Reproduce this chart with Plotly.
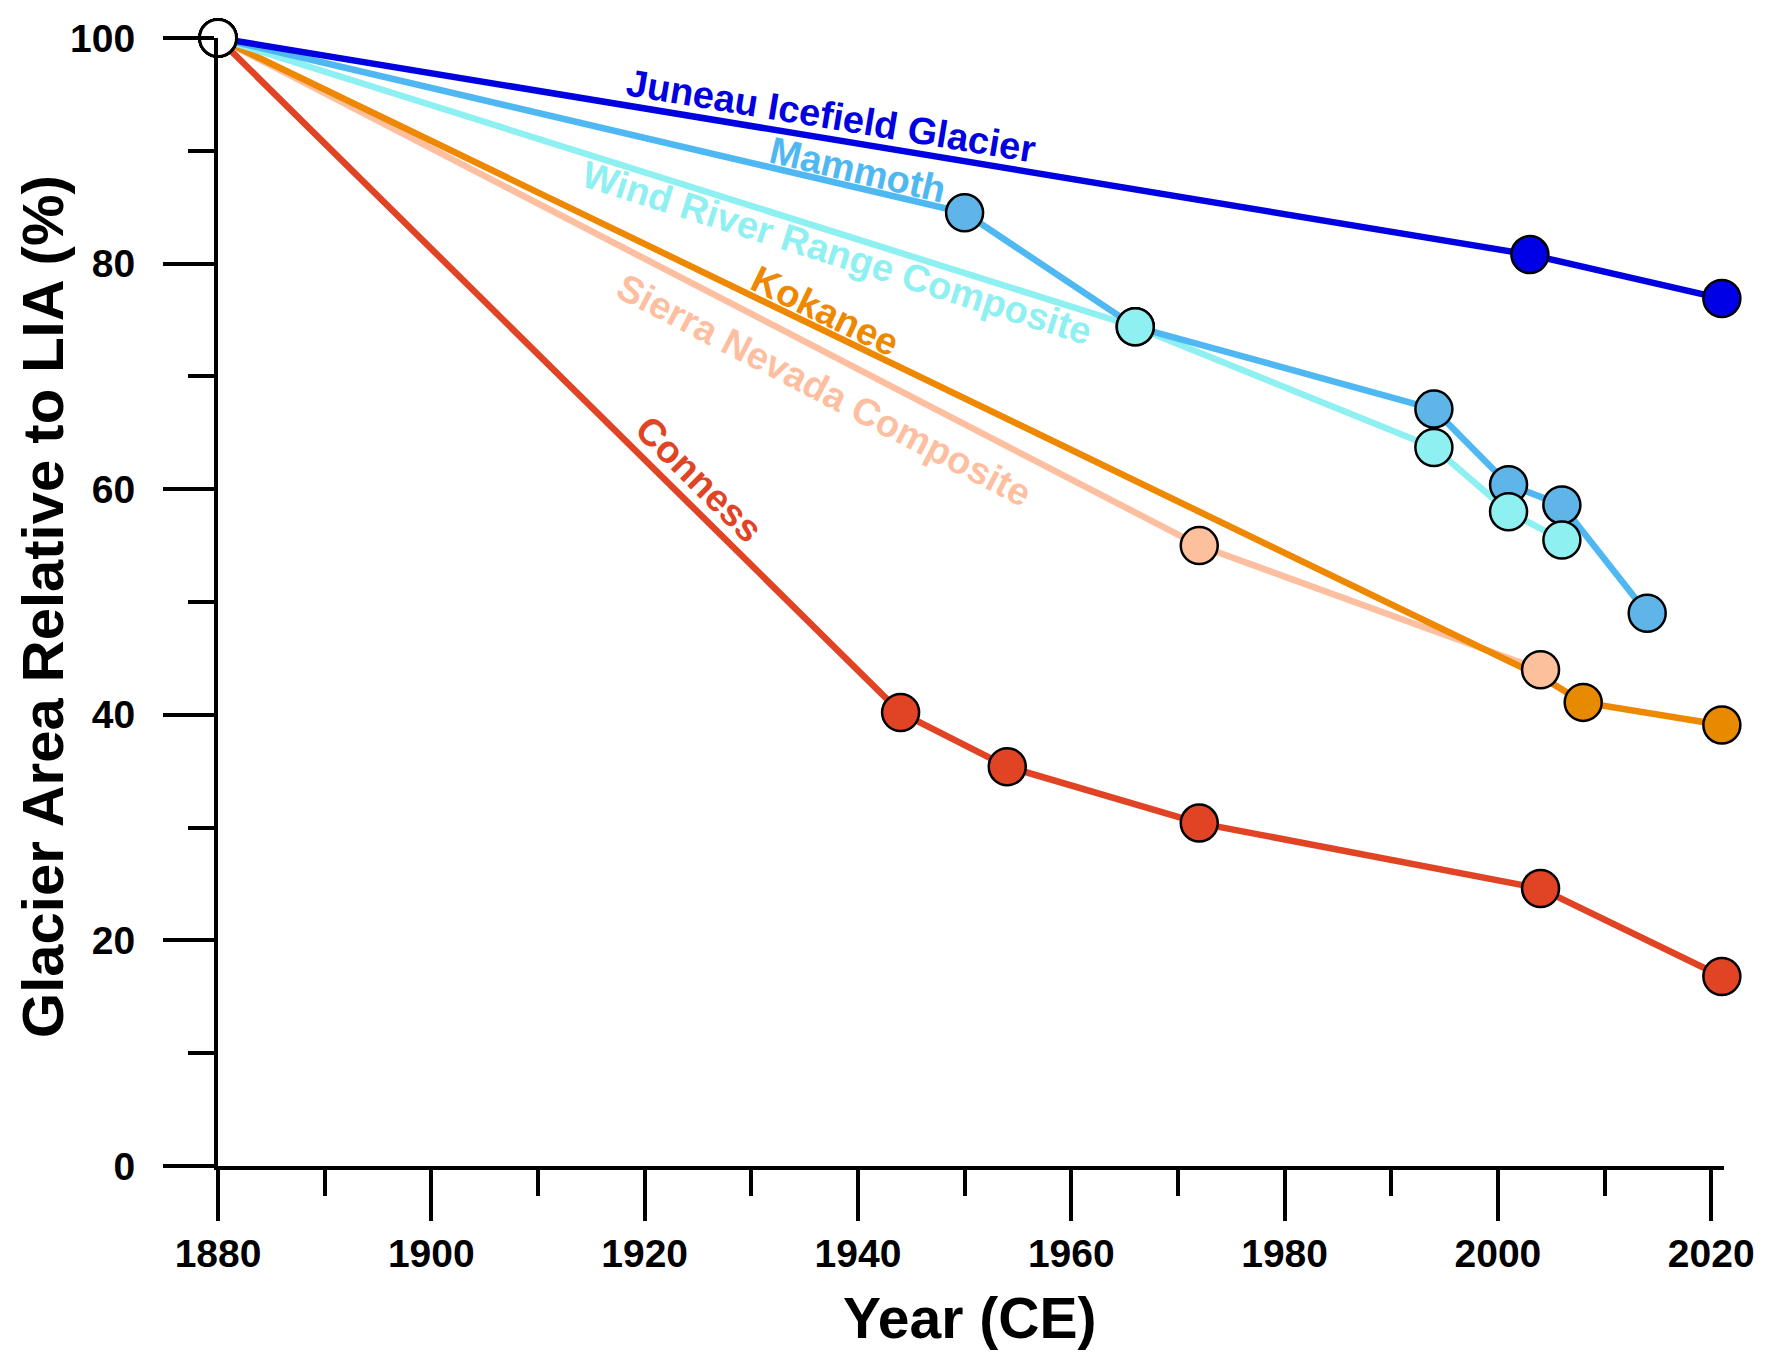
import plotly.graph_objects as go

# glacier area relative to Little Ice Age maximum (%)
juneau_years = [1880, 2003, 2021]
juneau_area = [100, 80.8, 76.9]

mammoth_years = [1880, 1950, 1966, 1994, 2001, 2006, 2014]
mammoth_area = [100, 84.5, 74.4, 67.1, 60.4, 58.6, 49.0]

wind_years = [1880, 1966, 1994, 2001, 2006]
wind_area = [100, 74.4, 63.7, 58.0, 55.5]

# the 2004 Kokanee value sits under the Sierra Nevada marker (no own circle)
kokanee_years = [1880, 2004, 2008, 2021]
kokanee_area = [100, 43.4, 41.1, 39.1]
kokanee_hidden = [2004]

sierra_years = [1880, 1972, 2004]
sierra_area = [100, 55.0, 44.0]

conness_years = [1880, 1944, 1954, 1972, 2004, 2021]
conness_area = [100, 40.2, 35.4, 30.4, 24.6, 16.8]

lia_year = [1880]
lia_area = [100]

x_ticks = [1880, 1900, 1920, 1940, 1960, 1980, 2000, 2020]
y_ticks = [0, 20, 40, 60, 80, 100]

FONT = "Arial, Liberation Sans, sans-serif"
MARKER_SIZE = 37

series = {
    "Conness": (conness_years, conness_area, "#e04424", "#e04424"),
    "Sierra Nevada Composite": (sierra_years, sierra_area, "#fdbf9f", "#fdc09d"),
    "Kokanee": (kokanee_years, kokanee_area, "#ee8800", "#e88a00"),
    "Wind River Range Composite": (wind_years, wind_area, "#8ef0f0", "#8ef0f0"),
    "Mammoth": (mammoth_years, mammoth_area, "#4fb8f2", "#5fb5e8"),
    "Juneau Icefield Glacier": (juneau_years, juneau_area, "#0000e0", "#0000e6"),
}
marker_order = ["Conness", "Kokanee", "Sierra Nevada Composite", "Mammoth",
                "Wind River Range Composite", "Juneau Icefield Glacier"]

fig = go.Figure()

# lines first, then markers on top
for name, (xs, ys, line_color, _) in series.items():
    fig.add_trace(go.Scatter(x=xs, y=ys, mode="lines", name=name,
                             line=dict(color=line_color, width=6.5),
                             cliponaxis=False, showlegend=False))

for name in marker_order:
    xs, ys, _, marker_color = series[name]
    sizes = [0 if (name == "Kokanee" and x in kokanee_hidden) else MARKER_SIZE
             for x in xs]
    widths = [0 if s == 0 else 2.5 for s in sizes]
    fig.add_trace(go.Scatter(x=xs, y=ys, mode="markers", name=name,
                             marker=dict(size=sizes, color=marker_color,
                                         opacity=1,
                                         line=dict(color="black", width=widths)),
                             cliponaxis=False, showlegend=False))

fig.add_trace(go.Scatter(x=lia_year, y=lia_area, mode="markers", name="LIA",
                         marker=dict(size=MARKER_SIZE, color="white", opacity=1,
                                     line=dict(color="black", width=3)),
                         cliponaxis=False, showlegend=False))

# labels along the lines: (text, x, y, angle, colour)
labels = [
    ("Juneau Icefield Glacier", 1937.5, 93.1, 9.4, "#0000e0"),
    ("Mammoth", 1940.0, 88.3, 13.2, "#4fb8f2"),
    ("Wind River Range Composite", 1938.0, 80.9, 17.5, "#8ef0f0"),
    ("Kokanee", 1936.9, 75.8, 25.8, "#ee8800"),
    ("Sierra Nevada Composite", 1936.8, 68.8, 27.4, "#fdbf9f"),
    ("Conness", 1925.1, 60.9, 44.7, "#e04424"),
]
for text, lx, ly, ang, col in labels:
    fig.add_annotation(x=lx, y=ly, xref="x", yref="y", text=text,
                       textangle=ang, showarrow=False,
                       xanchor="center", yanchor="middle",
                       font=dict(family=FONT, size=38, color=col, weight="bold"))

# axis titles
fig.add_annotation(x=0, y=0.4956, xref="paper", yref="paper", xshift=-175,
                   xanchor="center", yanchor="middle",
                   text="Glacier Area Relative to LIA (%)", textangle=-90,
                   showarrow=False,
                   font=dict(family=FONT, size=58, color="black", weight="bold"))
fig.add_annotation(x=0.4993, y=0, xref="paper", yref="paper", yshift=-152,
                   xanchor="center", yanchor="middle",
                   text="Year (CE)", showarrow=False,
                   font=dict(family=FONT, size=57, color="black", weight="bold"))

tick_font = dict(family=FONT, size=39, color="black", weight="bold")

fig.update_xaxes(range=[1880, 2021.2], tickvals=x_ticks, ticks="outside",
                 ticklen=51, tickwidth=4, tickcolor="black",
                 showline=True, linewidth=4, linecolor="black",
                 showgrid=False, zeroline=False, tickfont=tick_font,
                 ticklabelstandoff=-1,
                 minor=dict(tick0=1880, dtick=10, ticks="outside", ticklen=26,
                            tickwidth=4, tickcolor="black", showgrid=False))
fig.update_yaxes(range=[0, 100], tickvals=y_ticks, ticks="outside",
                 ticklen=51, tickwidth=4, tickcolor="black",
                 showline=True, linewidth=4, linecolor="black",
                 showgrid=False, zeroline=False, tickfont=tick_font,
                 ticklabelstandoff=20,
                 minor=dict(tick0=0, dtick=10, ticks="outside", ticklen=26,
                            tickwidth=4, tickcolor="black", showgrid=False))

fig.update_layout(width=1774, height=1368,
                  margin=dict(l=218, r=50, t=38, b=202, autoexpand=False),
                  plot_bgcolor="white", paper_bgcolor="white",
                  showlegend=False)

fig.write_html("out.html", config={"displayModeBar": False},
               post_script="document.body.style.margin='0px';")
